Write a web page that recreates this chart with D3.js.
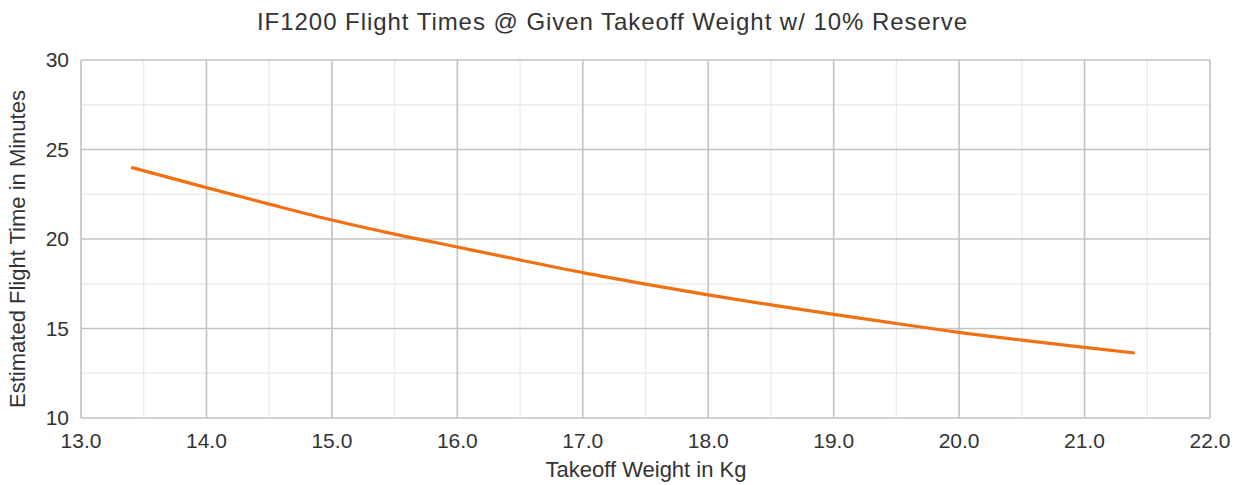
<!DOCTYPE html>
<html><head><meta charset="utf-8">
<script src="https://cdn.jsdelivr.net/npm/d3@7"></script>
<style>body{margin:0;background:#fff}svg{display:block;font-family:"Liberation Sans",Arial,sans-serif}</style>
</head><body><svg id="c" width="1244" height="485"></svg>
<script>
const weights = [13.4,14.0,14.5,15.0,15.5,16.0,16.5,17.0,17.5,18.0,18.5,19.0,19.5,20.0,20.5,21.0,21.4];
const minutes = [24.0,22.87,21.95,21.06,20.27,19.55,18.83,18.12,17.48,16.88,16.32,15.79,15.28,14.78,14.35,13.95,13.63];
const xTicks = [13,14,15,16,17,18,19,20,21,22];
const yTicks = [10,15,20,25,30];
const title = "IF1200 Flight Times @ Given Takeoff Weight w/ 10% Reserve";
const xTitle = "Takeoff Weight in Kg";
const yTitle = "Estimated Flight Time in Minutes";

const svg = d3.select("#c");
const L=81,R=1210,T=60,B=418;
const x = d3.scaleLinear().domain([13,22]).range([L,R]);
const y = d3.scaleLinear().domain([10,30]).range([B,T]);
const g = svg.append("g");
const xMinor = d3.range(13.5,22,1), yMinor = d3.range(12.5,30,5);
g.selectAll(".xm").data(xMinor).join("line").attr("x1",d=>x(d)).attr("x2",d=>x(d)).attr("y1",T).attr("y2",B).attr("stroke","#ebebeb").attr("stroke-width",1.3);
g.selectAll(".ym").data(yMinor).join("line").attr("y1",d=>y(d)).attr("y2",d=>y(d)).attr("x1",L).attr("x2",R).attr("stroke","#ebebeb").attr("stroke-width",1.3);
g.selectAll(".xg").data(xTicks).join("line").attr("x1",d=>x(d)).attr("x2",d=>x(d)).attr("y1",T).attr("y2",B).attr("stroke","#c2c2c2").attr("stroke-width",1.6);
g.selectAll(".yg").data(yTicks).join("line").attr("y1",d=>y(d)).attr("y2",d=>y(d)).attr("x1",L).attr("x2",R).attr("stroke","#c2c2c2").attr("stroke-width",1.6);
g.selectAll(".xl").data(xTicks).join("text").attr("x",d=>x(d)).attr("y",448).attr("text-anchor","middle").attr("font-size",21).attr("fill","#333").text(d=>d.toFixed(1));
g.selectAll(".yl").data(yTicks).join("text").attr("x",69).attr("y",d=>y(d)+7).attr("text-anchor","end").attr("font-size",21).attr("fill","#333").text(d=>d);
svg.append("text").attr("x",257).attr("y",30).attr("font-size",24).attr("textLength",710).attr("lengthAdjust","spacing").attr("fill","#333").text(title);
svg.append("text").attr("x",646).attr("y",477).attr("text-anchor","middle").attr("font-size",22).attr("fill","#333").text(xTitle);
svg.append("text").attr("transform",`translate(25,249) rotate(-90)`).attr("text-anchor","middle").attr("font-size",22).attr("fill","#333").text(yTitle);
const line = d3.line().x((d,i)=>x(weights[i])).y(d=>y(d)).curve(d3.curveMonotoneX);
svg.append("path").attr("d",line(minutes)).attr("fill","none").attr("stroke","#f07113").attr("stroke-width",3.2);
</script></body></html>
